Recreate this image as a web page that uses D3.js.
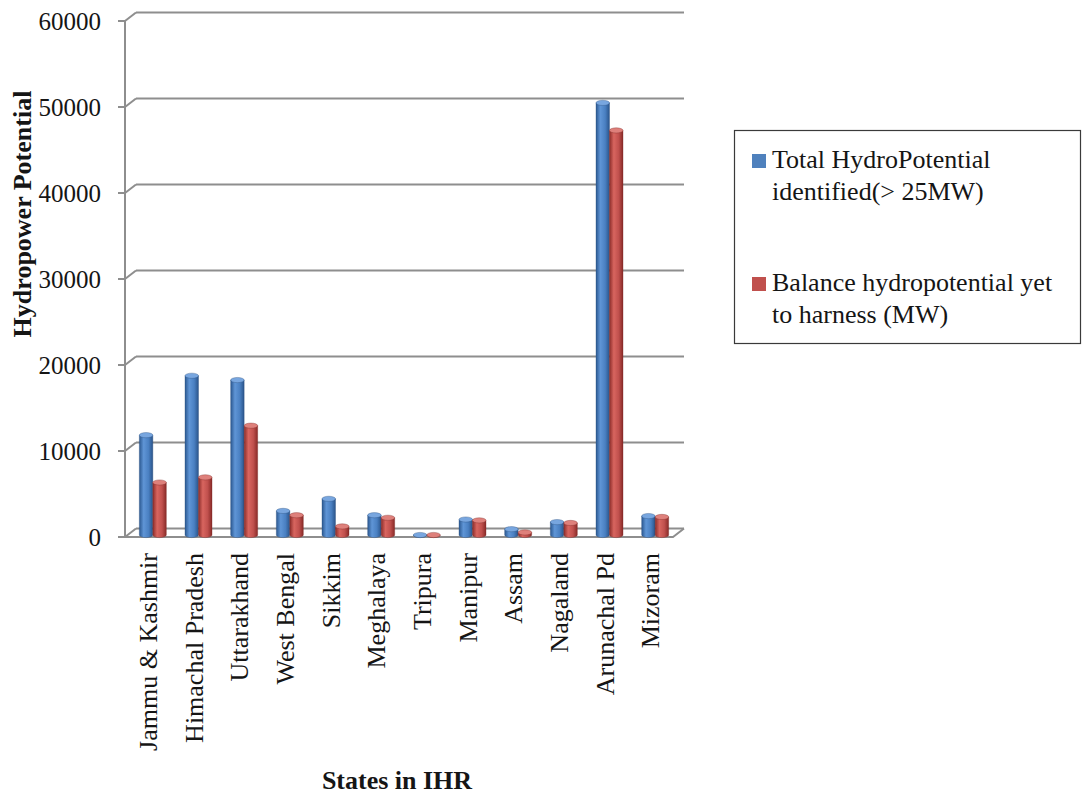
<!DOCTYPE html>
<html>
<head>
<meta charset="utf-8">
<script src="https://cdn.jsdelivr.net/npm/d3@7"></script>
<style>
  body { margin: 0; background: #fff; }
  svg { display: block; }
  text { font-family: "Liberation Serif", "Times New Roman", serif; fill: #151515; }
</style>
</head>
<body>
<svg id="chart" width="1082" height="795"></svg>
<script>
// Hydropower potential of the Indian Himalayan Region states (MW)
const states = ["Jammu & Kashmir", "Himachal Pradesh", "Uttarakhand", "West Bengal", "Sikkim",
  "Meghalaya", "Tripura", "Manipur", "Assam", "Nagaland", "Arunachal Pd", "Mizoram"];
const totalPotential = [11600, 18500, 18000, 2800, 4200, 2300, 0, 1800, 680, 1500, 50200, 2200];
const balancePotential = [6100, 6700, 12700, 2300, 1000, 2000, 0, 1700, 300, 1400, 47000, 2100];
const yTicks = [0, 10000, 20000, 30000, 40000, 50000, 60000];
const seriesKeys = ["total", "balance"];
const legendLines = [
  ["Total HydroPotential", "identified(> 25MW)"],
  ["Balance hydropotential yet", "to harness (MW)"]
];
const yTitle = "Hydropower Potential";
const xTitle = "States in IHR";

const svg = d3.select("#chart");
const defs = svg.append("defs");

// Front plane of the 3-D box, plus the offset of the back wall
const x = d3.scaleBand().domain(states).range([125, 673]).paddingInner(0).paddingOuter(0);
const yFront = d3.scaleLinear().domain([0, 60000]).range([537, 21]);
const DX = 11, DY = -8.5;
// Plane in which the cylinders stand
const yBar = d3.scaleLinear().domain([0, 60000]).range([535, 18.5]);
const barShift = 5;
const inner = d3.scaleBand().domain(seriesKeys).range([-13.5, 13.5]);

const gridColor = "#8e8e8e";

// Shading for the cylinders
const palettes = {
  total:   { stops: ["#2b5890", "#5f95d6", "#4a80c2", "#2a548a"], top: "#78a6df", line: "#2a4f7e" },
  balance: { stops: ["#8c2d2a", "#d8655f", "#c0504d", "#882a27"], top: "#de807b", line: "#7e2a27" }
};
Object.entries(palettes).forEach(([key, p]) => {
  const g = defs.append("linearGradient").attr("id", "grad-" + key)
    .attr("x1", "0%").attr("x2", "100%").attr("y1", "0%").attr("y2", "0%");
  [0, 0.32, 0.68, 1].forEach((o, i) => g.append("stop").attr("offset", o).attr("stop-color", p.stops[i]));
});

// Back-wall gridlines, left-wall diagonals and tick marks
const axisG = svg.append("g");
axisG.selectAll("line.grid").data(yTicks).join("line")
  .attr("x1", x.range()[0] + DX).attr("x2", x.range()[1] + DX)
  .attr("y1", d => yFront(d) + DY).attr("y2", d => yFront(d) + DY)
  .attr("stroke", gridColor).attr("stroke-width", 2);
axisG.selectAll("line.diag").data(yTicks).join("line")
  .attr("x1", x.range()[0]).attr("x2", x.range()[0] + DX)
  .attr("y1", d => yFront(d)).attr("y2", d => yFront(d) + DY)
  .attr("stroke", gridColor).attr("stroke-width", 2);
axisG.selectAll("line.tick").data(yTicks).join("line")
  .attr("x1", x.range()[0] - 7).attr("x2", x.range()[0])
  .attr("y1", d => yFront(d)).attr("y2", d => yFront(d))
  .attr("stroke", gridColor).attr("stroke-width", 2);
axisG.append("line")
  .attr("x1", x.range()[0]).attr("x2", x.range()[0])
  .attr("y1", yFront(60000)).attr("y2", yFront(0))
  .attr("stroke", gridColor).attr("stroke-width", 2);
// Floor: front edge and right-hand edge
axisG.append("path")
  .attr("d", `M${x.range()[0]},${yFront(0)} L${x.range()[1]},${yFront(0)} L${x.range()[1] + DX},${yFront(0) + DY}`)
  .attr("fill", "none").attr("stroke", gridColor).attr("stroke-width", 2);

// Y tick labels
svg.append("g").selectAll("text").data(yTicks).join("text")
  .attr("x", 101).attr("y", d => yFront(d)).attr("dy", "0.35em")
  .attr("text-anchor", "end").attr("font-size", 25)
  .text(d => d);

// Cylinder bars
const rows = states.map((s, i) => ({ state: s, total: totalPotential[i], balance: balancePotential[i] }));
const ry = 2.6;
const barsG = svg.append("g");
rows.forEach(r => {
  seriesKeys.forEach(k => {
    const cx = x(r.state) + x.bandwidth() / 2 + barShift;
    const x0 = cx + inner(k), w = inner.bandwidth(), rx = w / 2;
    const yb = yBar(0), yt = yBar(r[k]);
    const p = palettes[k];
    barsG.append("path")
      .attr("d", `M${x0},${yt} L${x0},${yb} A${rx},${ry} 0 0 0 ${x0 + w},${yb} L${x0 + w},${yt} Z`)
      .attr("fill", `url(#grad-${k})`)
      .attr("stroke", p.line).attr("stroke-width", 0.6).attr("stroke-opacity", 0.6);
    barsG.append("ellipse")
      .attr("cx", x0 + rx).attr("cy", yt).attr("rx", rx).attr("ry", ry)
      .attr("fill", p.top).attr("stroke", p.line).attr("stroke-width", 0.6).attr("stroke-opacity", 0.6);
  });
});

// Category labels, rotated
svg.append("g").selectAll("text").data(states).join("text")
  .attr("transform", d => `translate(${x(d) + x.bandwidth() / 2},553) rotate(-90)`)
  .attr("dy", "0.35em").attr("text-anchor", "end").attr("font-size", 26)
  .text(d => d);

// Axis titles
svg.append("text")
  .attr("transform", "translate(31,214) rotate(-90)")
  .attr("text-anchor", "middle").attr("font-size", 26).attr("font-weight", "bold")
  .text(yTitle);
svg.append("text")
  .attr("x", 397).attr("y", 789)
  .attr("text-anchor", "middle").attr("font-size", 26).attr("font-weight", "bold")
  .text(xTitle);

// Legend
const legend = svg.append("g");
legend.append("rect")
  .attr("x", 734.5).attr("y", 130.5).attr("width", 346).attr("height", 213)
  .attr("fill", "#fff").attr("stroke", "#3a3a3a").attr("stroke-width", 1.2);
const legendTop = [168, 291];
seriesKeys.forEach((k, i) => {
  legend.append("rect")
    .attr("x", 752).attr("y", legendTop[i] - 14).attr("width", 14).attr("height", 14)
    .attr("fill", k === "total" ? "#4f81bd" : "#c0504d");
  legendLines[i].forEach((line, j) => {
    legend.append("text")
      .attr("x", 772).attr("y", legendTop[i] + j * 32)
      .attr("font-size", 26)
      .text(line);
  });
});
</script>
</body>
</html>
